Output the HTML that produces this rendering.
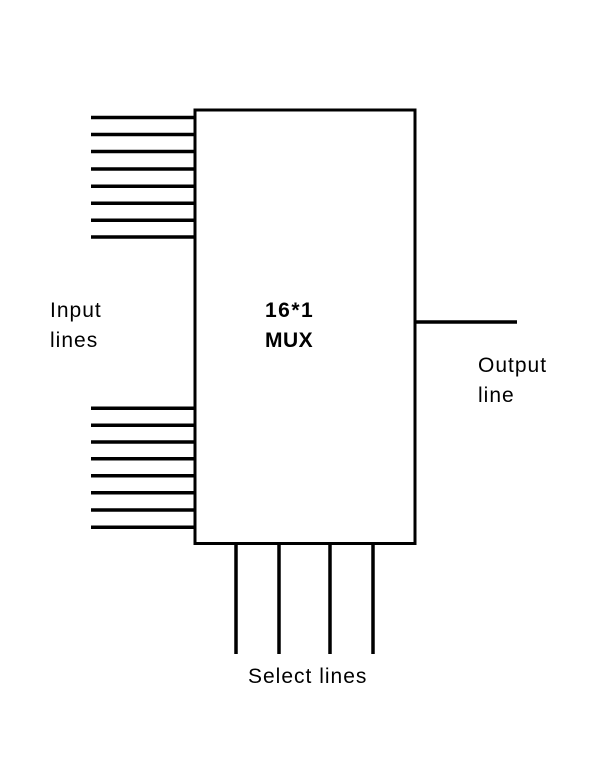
<!DOCTYPE html>
<html><head><style>html,body{margin:0;padding:0;background:#fff;}svg{display:block;}</style></head>
<body>
<svg width="608" height="768" viewBox="0 0 608 768" xmlns="http://www.w3.org/2000/svg">
<rect x="0" y="0" width="608" height="768" fill="#fff"/>
<g stroke="#000" stroke-width="3.5" fill="none">
<rect x="195" y="110" width="220" height="433.5" stroke-width="3"/>
<line x1="91" y1="117.5" x2="195" y2="117.5"/>
<line x1="91" y1="134.5" x2="195" y2="134.5"/>
<line x1="91" y1="151.5" x2="195" y2="151.5"/>
<line x1="91" y1="169" x2="195" y2="169"/>
<line x1="91" y1="186.3" x2="195" y2="186.3"/>
<line x1="91" y1="203.3" x2="195" y2="203.3"/>
<line x1="91" y1="220.3" x2="195" y2="220.3"/>
<line x1="91" y1="237" x2="195" y2="237"/>
<line x1="91" y1="408.3" x2="195" y2="408.3"/>
<line x1="91" y1="425.3" x2="195" y2="425.3"/>
<line x1="91" y1="442" x2="195" y2="442"/>
<line x1="91" y1="458.7" x2="195" y2="458.7"/>
<line x1="91" y1="475.7" x2="195" y2="475.7"/>
<line x1="91" y1="492.7" x2="195" y2="492.7"/>
<line x1="91" y1="510" x2="195" y2="510"/>
<line x1="91" y1="527.3" x2="195" y2="527.3"/>
<line x1="415" y1="322" x2="517" y2="322"/>
<line x1="236" y1="543" x2="236" y2="654"/>
<line x1="279" y1="543" x2="279" y2="654"/>
<line x1="330" y1="543" x2="330" y2="654"/>
<line x1="373" y1="543" x2="373" y2="654"/>
</g>
<g font-family="Liberation Sans, sans-serif" font-size="21" fill="#000" letter-spacing="1">
<text x="50" y="317">Input</text>
<text x="50" y="347">lines</text>
<text x="265" y="317" font-weight="bold" letter-spacing="1.5">16*1</text>
<text x="265" y="347" font-weight="bold" letter-spacing="0.5">MUX</text>
<text x="478" y="372">Output</text>
<text x="478" y="402">line</text>
<text x="248" y="683">Select lines</text>
</g>
</svg>
</body></html>
